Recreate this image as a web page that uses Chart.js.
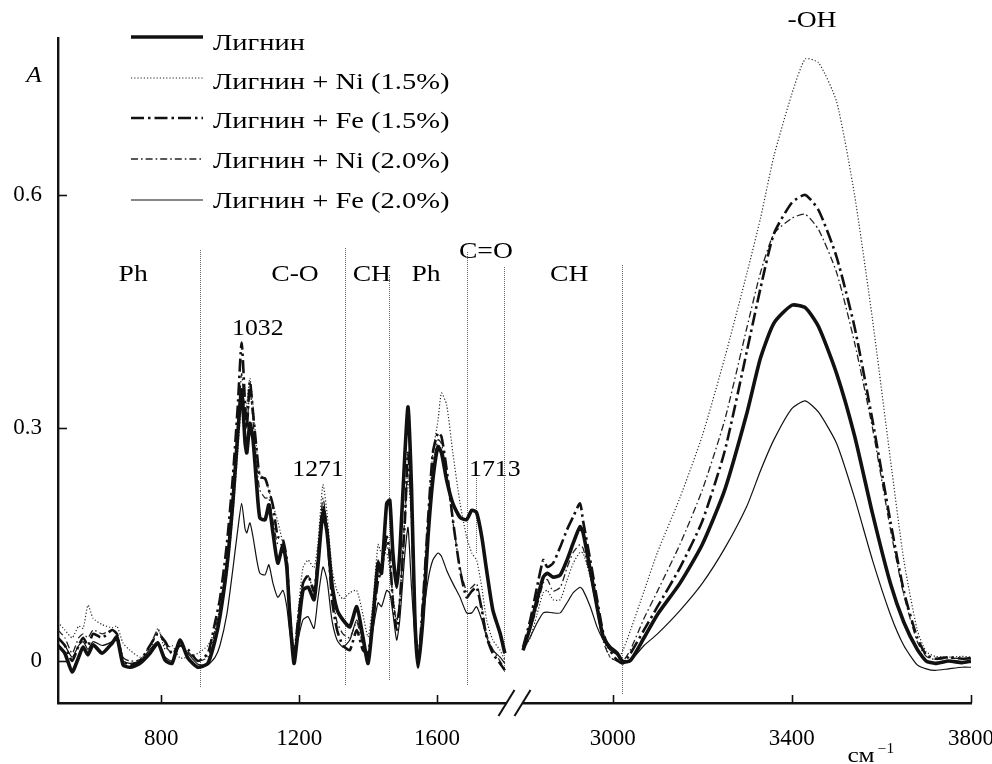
<!DOCTYPE html>
<html>
<head>
<meta charset="utf-8">
<script src="https://cdn.jsdelivr.net/npm/chart.js@4.4.1/dist/chart.umd.min.js"></script>
<style>
html,body{margin:0;padding:0;background:#fff;}
#wrap{width:992px;height:764px;}
</style>
</head>
<body>
<div id="wrap"><canvas id="c" width="992" height="764"></canvas></div>
<script>
// ---------- data (wavenumber, cm-1) ----------
const wavenumbers = [
  500, 520, 541, 560, 573, 587, 602, 628, 657, 671,
  689, 709, 738, 767, 790, 811, 831, 854, 877, 906,
  935, 956, 970, 990, 1008, 1022, 1033, 1043, 1048, 1057,
  1066, 1077, 1086, 1101, 1112, 1124, 1138, 1153, 1164, 1173,
  1185, 1196, 1211, 1226, 1243, 1254, 1269, 1281, 1295, 1310,
  1327, 1347, 1367, 1385, 1400, 1414, 1429, 1439, 1454, 1463,
  1472, 1483, 1492, 1507, 1516, 1526, 1536, 1545, 1559, 1574,
  1588, 1603, 1613, 1628, 1646, 1667, 1686, 1701, 1715, 1730,
  1744, 1762, 1783, 1797,
  2800, 2816, 2831, 2845, 2854, 2867, 2883, 2898, 2912, 2927,
  2934, 2950, 2965, 2979, 2994, 3010, 3023, 3040, 3070, 3100,
  3150, 3200, 3250, 3300, 3330, 3360, 3400, 3430, 3460, 3500,
  3540, 3580, 3620, 3650, 3680, 3700, 3720, 3750, 3780, 3800
];
const lignin = [
  0.020, 0.010, -0.014, 0.005, 0.018, 0.008, 0.021, 0.010, 0.023, 0.031,
  -0.005, -0.008, -0.003, 0.010, 0.023, 0.001, -0.003, 0.027, 0.004, -0.008,
  -0.003, 0.027, 0.057, 0.121, 0.207, 0.294, 0.349, 0.281, 0.268, 0.306,
  0.285, 0.224, 0.184, 0.182, 0.201, 0.165, 0.126, 0.149, 0.121, 0.057,
  -0.003, 0.036, 0.091, 0.095, 0.079, 0.121, 0.191, 0.165, 0.100, 0.066,
  0.053, 0.044, 0.070, 0.031, -0.003, 0.053, 0.126, 0.113, 0.203, 0.207,
  0.139, 0.095, 0.139, 0.268, 0.327, 0.224, 0.053, -0.008, 0.053, 0.160,
  0.233, 0.276, 0.268, 0.233, 0.203, 0.185, 0.182, 0.194, 0.191, 0.160,
  0.117, 0.066, 0.036, 0.010,
  0.014, 0.044, 0.079, 0.108, 0.113, 0.108, 0.111, 0.130, 0.152, 0.173,
  0.165, 0.117, 0.070, 0.031, 0.018, 0.010, -0.001, 0.001, 0.030, 0.060,
  0.100, 0.150, 0.220, 0.320, 0.390, 0.435, 0.458, 0.455, 0.430, 0.370,
  0.290, 0.190, 0.100, 0.050, 0.015, 0.000, -0.003, 0.000, -0.002, 0.000
];
const ligninNi15 = [
  0.050, 0.040, 0.030, 0.045, 0.042, 0.072, 0.055, 0.047, 0.043, 0.045,
  0.023, 0.014, 0.005, 0.012, 0.042, 0.015, 0.020, 0.004, 0.005, 0.010,
  0.020, 0.040, 0.060, 0.110, 0.190, 0.270, 0.330, 0.310, 0.330, 0.364,
  0.330, 0.270, 0.240, 0.235, 0.220, 0.200, 0.180, 0.150, 0.120, 0.060,
  0.010, 0.060, 0.120, 0.130, 0.120, 0.150, 0.227, 0.190, 0.120, 0.090,
  0.080, 0.088, 0.091, 0.060, 0.031, 0.075, 0.150, 0.139, 0.139, 0.117,
  0.087, 0.053, 0.075, 0.182, 0.233, 0.182, 0.053, 0.001, 0.075, 0.182,
  0.268, 0.310, 0.345, 0.330, 0.268, 0.203, 0.160, 0.139, 0.130, 0.095,
  0.053, 0.027, 0.014, 0.001,
  0.014, 0.030, 0.060, 0.088, 0.091, 0.079, 0.079, 0.104, 0.126, 0.140,
  0.139, 0.108, 0.070, 0.031, 0.005, 0.001, 0.014, 0.040, 0.090, 0.140,
  0.210, 0.290, 0.390, 0.500, 0.570, 0.650, 0.730, 0.775, 0.770, 0.720,
  0.600, 0.440, 0.260, 0.130, 0.040, 0.012, 0.006, 0.005, 0.006, 0.005
];
const ligninFe15 = [
  0.030, 0.020, 0.000, 0.020, 0.030, 0.020, 0.035, 0.030, 0.040, 0.035,
  0.000, -0.005, 0.000, 0.020, 0.035, 0.025, 0.010, 0.020, 0.015, 0.000,
  0.010, 0.050, 0.080, 0.150, 0.240, 0.330, 0.410, 0.330, 0.300, 0.360,
  0.320, 0.270, 0.237, 0.235, 0.220, 0.200, 0.160, 0.156, 0.130, 0.060,
  0.005, 0.050, 0.100, 0.110, 0.090, 0.130, 0.200, 0.170, 0.080, 0.040,
  0.020, 0.014, 0.040, 0.014, 0.010, 0.053, 0.104, 0.117, 0.160, 0.139,
  0.075, 0.040, 0.075, 0.182, 0.268, 0.203, 0.053, -0.003, 0.075, 0.182,
  0.268, 0.294, 0.289, 0.247, 0.182, 0.117, 0.082, 0.090, 0.095, 0.066,
  0.031, 0.010, -0.003, -0.012,
  0.018, 0.053, 0.095, 0.130, 0.121, 0.126, 0.147, 0.169, 0.186, 0.203,
  0.180, 0.130, 0.080, 0.036, 0.014, 0.001, -0.003, 0.010, 0.040, 0.070,
  0.120, 0.180, 0.270, 0.400, 0.480, 0.550, 0.590, 0.600, 0.580, 0.520,
  0.430, 0.310, 0.180, 0.090, 0.030, 0.008, 0.003, 0.005, 0.003, 0.004
];
const ligninNi20 = [
  0.040, 0.030, 0.010, 0.030, 0.035, 0.030, 0.040, 0.035, 0.040, 0.035,
  0.005, 0.000, 0.002, 0.020, 0.040, 0.020, 0.010, 0.020, 0.012, 0.000,
  0.005, 0.040, 0.070, 0.130, 0.220, 0.300, 0.370, 0.310, 0.300, 0.350,
  0.310, 0.250, 0.220, 0.210, 0.210, 0.180, 0.150, 0.150, 0.120, 0.060,
  0.000, 0.045, 0.100, 0.110, 0.090, 0.130, 0.210, 0.170, 0.090, 0.050,
  0.035, 0.030, 0.050, 0.020, 0.005, 0.060, 0.130, 0.120, 0.150, 0.130,
  0.080, 0.050, 0.080, 0.190, 0.250, 0.190, 0.050, 0.000, 0.070, 0.170,
  0.250, 0.285, 0.280, 0.240, 0.180, 0.120, 0.090, 0.095, 0.100, 0.070,
  0.035, 0.015, 0.000, -0.010,
  0.016, 0.040, 0.070, 0.100, 0.105, 0.090, 0.095, 0.120, 0.140, 0.150,
  0.145, 0.110, 0.065, 0.025, 0.005, 0.000, 0.000, 0.015, 0.055, 0.090,
  0.150, 0.220, 0.310, 0.430, 0.500, 0.550, 0.570, 0.575, 0.555, 0.500,
  0.410, 0.300, 0.170, 0.085, 0.025, 0.006, 0.002, 0.004, 0.003, 0.003
];
const ligninFe20 = [
  0.030, 0.020, 0.005, 0.020, 0.025, 0.015, 0.025, 0.020, 0.025, 0.030,
  0.000, -0.003, 0.000, 0.015, 0.025, 0.005, 0.000, 0.020, 0.010, -0.004,
  -0.005, 0.005, 0.020, 0.060, 0.120, 0.170, 0.203, 0.170, 0.165, 0.178,
  0.160, 0.130, 0.113, 0.111, 0.124, 0.100, 0.082, 0.091, 0.070, 0.036,
  0.010, 0.027, 0.053, 0.057, 0.042, 0.079, 0.121, 0.104, 0.053, 0.027,
  0.018, 0.027, 0.053, 0.027, 0.001, 0.040, 0.075, 0.070, 0.091, 0.087,
  0.062, 0.027, 0.053, 0.139, 0.172, 0.095, 0.031, -0.003, 0.053, 0.104,
  0.130, 0.139, 0.135, 0.117, 0.100, 0.082, 0.062, 0.062, 0.070, 0.053,
  0.031, 0.014, 0.005, -0.003,
  0.014, 0.031, 0.049, 0.062, 0.063, 0.062, 0.062, 0.075, 0.088, 0.095,
  0.091, 0.070, 0.044, 0.027, 0.014, 0.008, 0.001, 0.001, 0.020, 0.035,
  0.065, 0.100, 0.145, 0.200, 0.245, 0.285, 0.325, 0.335, 0.320, 0.280,
  0.210, 0.130, 0.060, 0.020, -0.005, -0.010, -0.012, -0.010, -0.008, -0.008
];
const seriesNames = ['Лигнин', 'Лигнин + Ni (1.5%)', 'Лигнин + Fe (1.5%)', 'Лигнин + Ni (2.0%)', 'Лигнин + Fe (2.0%)'];
const xTickLabels = [800, 1200, 1600, 3000, 3400, 3800];
const yTickValues = [0, 0.3, 0.6];
const regionBounds = [911, 1334, 1461, 1688, 1795, 3021];
const regionLabels = ['Ph', 'C-O', 'CH', 'Ph', 'C=O', 'CH', '-OH'];
const regionLabelWn = [718, 1188, 1411, 1568, 1742, 2903, 3445];
const peakLabels = ['1032', '1271', '1713'];
const peakLabelWn = [1080, 1255, 1768];

// broken axis: 500-1800 and 2800-3800 on one continuous scale
const BREAK_LO = 1800, BREAK_HI = 2800, GAP = 50, RIGHT_STRETCH = 1.3;
function axisPos(wn) {
  return wn <= BREAK_LO ? wn : BREAK_LO + GAP + (wn - BREAK_HI) * RIGHT_STRETCH;
}

function build(values) {
  const pts = [];
  for (let i = 0; i < wavenumbers.length; i++) {
    if (i > 0 && wavenumbers[i - 1] <= BREAK_LO && wavenumbers[i] >= BREAK_HI) {
      pts.push({ x: BREAK_LO + GAP / 2, y: null });
    }
    pts.push({ x: axisPos(wavenumbers[i]), y: values[i] });
  }
  return pts;
}

const INK = '#111';
const styles = [
  { width: 3.6, dash: [], color: INK, order: 0 },
  { width: 1.2, dash: [1.2, 2], color: '#2a2a2a', order: 2 },
  { width: 2.6, dash: [13, 4, 2.5, 4], color: INK, order: 1 },
  { width: 1.3, dash: [7, 3, 1.6, 3], color: '#222', order: 3 },
  { width: 1.2, dash: [], color: INK, order: 4 }
];
const allSeries = [lignin, ligninNi15, ligninFe15, ligninNi20, ligninFe20];

const SERIF = '"Liberation Serif", "Times New Roman", serif';

function stretchedText(ctx, text, x, y, size, align, sx, italic) {
  ctx.save();
  ctx.font = (italic ? 'italic ' : '') + size + 'px ' + SERIF;
  ctx.textBaseline = 'alphabetic';
  ctx.fillStyle = '#000';
  ctx.translate(x, y);
  ctx.scale(sx, 1);
  const w = ctx.measureText(text).width;
  let dx = 0;
  if (align === 'center') dx = -w / 2;
  else if (align === 'right') dx = -w;
  ctx.textAlign = 'left';
  ctx.fillText(text, dx, 0);
  ctx.restore();
}

const decor = {
  id: 'decor',
  beforeDatasetsDraw(chart) {
    const { ctx, scales: { x } } = chart;
    ctx.save();
    ctx.strokeStyle = '#666';
    ctx.lineWidth = 1;
    ctx.setLineDash([1, 1]);
    const tops = [250, 248, 275, 252, 267, 265];
    const bottoms = [688, 686, 680, 686, 673, 695];
    regionBounds.forEach((wn, i) => {
      const px = Math.round(x.getPixelForValue(axisPos(wn))) + 0.5;
      ctx.beginPath();
      ctx.moveTo(px, tops[i]);
      ctx.lineTo(px, bottoms[i]);
      ctx.stroke();
    });
    // leader for 1713
    const lx = Math.round(x.getPixelForValue(axisPos(1713))) + 0.5;
    ctx.beginPath();
    ctx.moveTo(lx, 478);
    ctx.lineTo(lx, 553);
    ctx.stroke();
    ctx.restore();
  },
  afterDraw(chart) {
    const { ctx, chartArea: ca, scales: { x, y } } = chart;
    ctx.save();
    ctx.strokeStyle = INK;
    // inward ticks
    ctx.lineWidth = 1.6;
    yTickValues.forEach(v => {
      const py = Math.round(y.getPixelForValue(v)) + 0.5;
      ctx.beginPath(); ctx.moveTo(ca.left, py); ctx.lineTo(ca.left + 9, py); ctx.stroke();
    });
    xTickLabels.forEach(t => {
      const px = Math.round(x.getPixelForValue(axisPos(t))) + 0.5;
      ctx.beginPath(); ctx.moveTo(px, ca.bottom); ctx.lineTo(px, ca.bottom - 8); ctx.stroke();
    });
    // axis break
    const bx = x.getPixelForValue(BREAK_LO + GAP / 2);
    ctx.fillStyle = '#fff';
    ctx.fillRect(bx - 8, ca.bottom - 3, 16, 6);
    ctx.lineWidth = 2;
    [-8, 8].forEach(off => {
      ctx.beginPath();
      ctx.moveTo(bx + off - 8, ca.bottom + 13);
      ctx.lineTo(bx + off + 8, ca.bottom - 13);
      ctx.stroke();
    });
    // region labels
    regionLabels.forEach((t, i) => {
      const px = x.getPixelForValue(axisPos(regionLabelWn[i]));
      let base = 281;
      if (t === 'C=O') base = 258;
      if (t === '-OH') base = 27;
      stretchedText(ctx, t, px, base, 23, 'center', 1.2, false);
    });
    const peakBase = [335, 476, 476];
    peakLabels.forEach((t, i) => {
      const px = x.getPixelForValue(axisPos(peakLabelWn[i]));
      stretchedText(ctx, t, px, peakBase[i], 23, 'center', 1.12, false);
    });
    // axis titles
    stretchedText(ctx, 'A', 34, 82, 23, 'center', 1.1, true);
    stretchedText(ctx, 'см', 861, 762, 22, 'center', 1.15, false);
    stretchedText(ctx, '−1', 886, 753, 14, 'center', 1.1, false);
    // legend
    const lineY = [37, 78, 118, 159, 200];
    const textY = [50, 89, 128, 168, 208];
    styles.forEach((s, i) => {
      ctx.save();
      ctx.strokeStyle = s.color;
      ctx.lineWidth = s.width;
      ctx.setLineDash(s.dash);
      ctx.beginPath();
      ctx.moveTo(131, lineY[i]);
      ctx.lineTo(203, lineY[i]);
      ctx.stroke();
      ctx.restore();
      stretchedText(ctx, seriesNames[i], 213, textY[i], 23, 'left', 1.24, false);
    });
    ctx.restore();
  }
};

const datasets = allSeries.map((vals, i) => ({
  label: seriesNames[i],
  data: build(vals),
  borderColor: styles[i].color,
  borderWidth: styles[i].width,
  borderDash: styles[i].dash,
  pointRadius: 0,
  fill: false,
  tension: 0.2,
  spanGaps: false,
  order: styles[i].order
}));

new Chart(document.getElementById('c'), {
  type: 'line',
  data: { datasets },
  options: {
    responsive: false,
    animation: false,
    devicePixelRatio: 1,
    layout: { padding: { top: 38, right: 21, left: 0, bottom: 0 } },
    plugins: { legend: { display: false }, tooltip: { enabled: false } },
    scales: {
      x: {
        type: 'linear',
        min: 500,
        max: axisPos(3800),
        grid: { display: false, drawTicks: false },
        border: { display: true, color: INK, width: 2.4 },
        afterBuildTicks: s => { s.ticks = xTickLabels.map(t => ({ value: axisPos(t) })); },
        afterFit: s => { s.height = 61; s.paddingLeft = 0; s.paddingRight = 0; },
        ticks: {
          autoSkip: false, maxRotation: 0, padding: 22, color: '#000',
          font: { family: SERIF, size: 23 },
          callback: (v, i) => String(xTickLabels[i])
        }
      },
      y: {
        type: 'linear',
        min: -0.054,
        max: 0.802,
        grid: { display: false, drawTicks: false },
        border: { display: true, color: INK, width: 2.4 },
        afterBuildTicks: s => { s.ticks = yTickValues.map(v => ({ value: v })); },
        afterFit: s => { s.width = 58; s.paddingTop = 0; s.paddingBottom = 0; },
        ticks: {
          padding: 16, color: '#000',
          font: { family: SERIF, size: 23 },
          callback: v => (v === 0 ? '0' : String(v))
        }
      }
    }
  },
  plugins: [decor]
});
</script>
</body>
</html>
